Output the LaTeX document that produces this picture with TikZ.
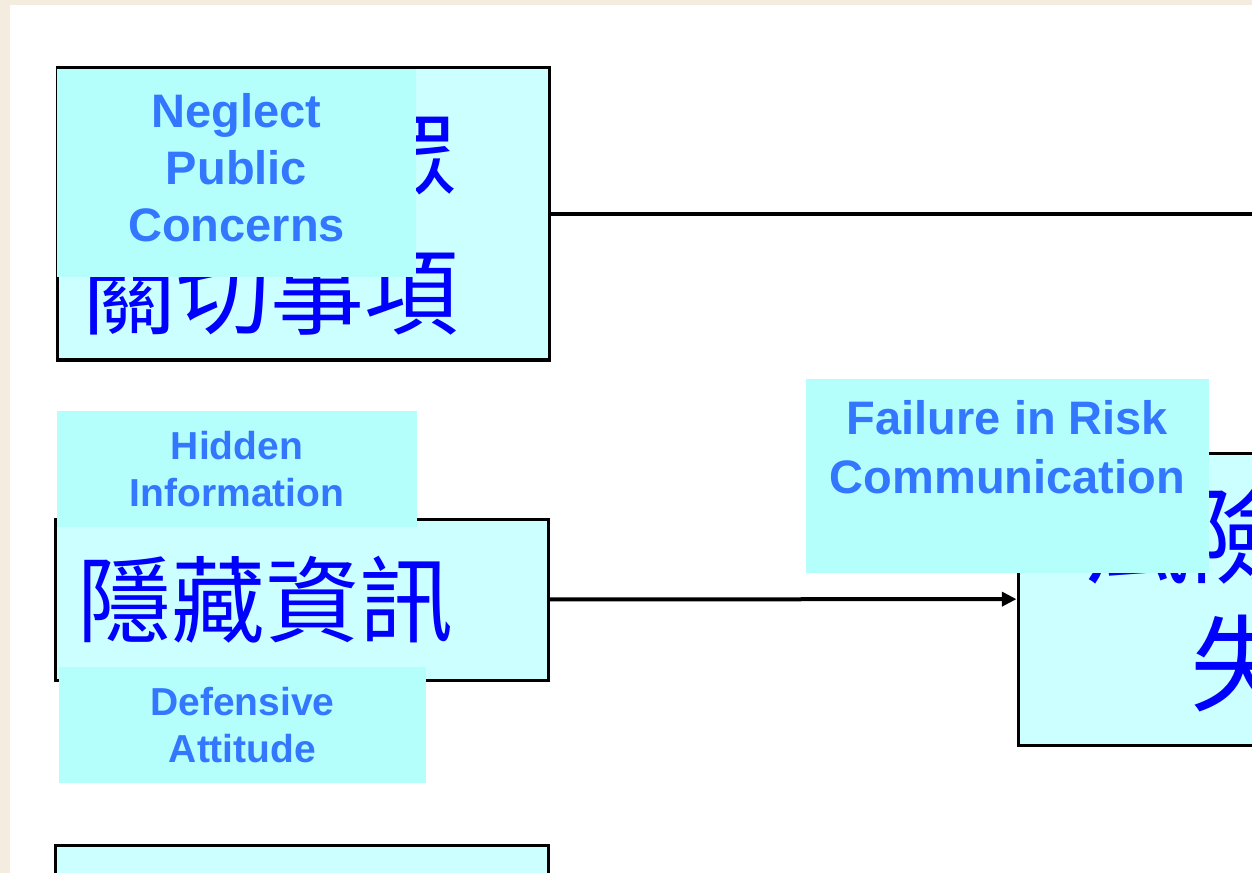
\documentclass[tikz,border=0pt]{standalone}
\usepackage{fontspec}
\setsansfont{Liberation Sans}
\newfontfamily\cjk{Noto Sans CJK TC}
\usetikzlibrary{arrows.meta}
\definecolor{beige}{HTML}{F4ECDF}
\definecolor{boxfill}{HTML}{CCFFFF}
\definecolor{overfill}{HTML}{B4FFFC}
\definecolor{entext}{HTML}{3377FF}
\definecolor{zhtext}{HTML}{0000FF}
\begin{document}
\begin{tikzpicture}[x=0.75pt,y=-0.75pt,
  zhbox/.style={draw=black, line width=2.25pt, fill=boxfill, text=zhtext, inner sep=0pt},
  overbox/.style={fill=overfill, text=entext, inner sep=0pt, align=center},
  link/.style={line width=3pt, draw=black}]
\useasboundingbox (0,0) rectangle (1252,873);
\clip (0,0) rectangle (1252,873);
\fill[beige] (0,0) rectangle (1252,873);
\fill[white] (10,5) rectangle (1270,890);

% Chinese boxes
\node[zhbox, minimum width=369pt, minimum height=219pt, text width=331pt, align=left,
      font=\cjk\fontsize{70.5}{101.25}\selectfont] (neglect) at (303,214)
      {\mbox{}\\[-27pt]\phantom{忽略民}眾\\關切事項};
\node[zhbox, minimum width=369.75pt, minimum height=120.75pt, text width=336.75pt, align=left,
      font=\cjk\fontsize{70.5}{84}\selectfont] (hidden) at (301.5,599.5) {隱藏資訊};
\node[zhbox, minimum width=417pt, minimum height=219pt, align=center,
      font=\cjk\fontsize{79}{96}\selectfont] (risk) at (1296,599) {風險溝通\\失敗};
\node[zhbox, minimum width=369.75pt, minimum height=120.75pt] (third) at (301.5,925.5) {};

% connectors
\coordinate (topend) at (1270,214);
\draw[link] (neglect) -- (topend);
\draw[link, -{Triangle[length=11pt,width=10.5pt]}] (hidden) -- (risk);

% English overlays
\node[overbox, minimum width=269.25pt, minimum height=156pt,
      font=\sffamily\bfseries\fontsize{35.25}{42.75}\selectfont] (ovneglect) at (236.5,173)
      {Neglect\\Public\\Concerns\\[-33.75pt]\mbox{}};
\node[overbox, minimum width=270pt, minimum height=87pt,
      font=\sffamily\bfseries\fontsize{29.25}{35.25}\selectfont] (ovhidden) at (237,469)
      {Hidden\\Information};
\node[overbox, minimum width=275.25pt, minimum height=87pt,
      font=\sffamily\bfseries\fontsize{29.25}{35.25}\selectfont] (ovdefend) at (242.5,725)
      {Defensive\\Attitude};
\node[overbox, minimum width=302.25pt, minimum height=145.5pt,
      font=\sffamily\bfseries\fontsize{35.25}{44.25}\selectfont] (ovrisk) at (1007.5,476)
      {Failure in Risk\\Communication\\\mbox{}};
\end{tikzpicture}
\end{document}
